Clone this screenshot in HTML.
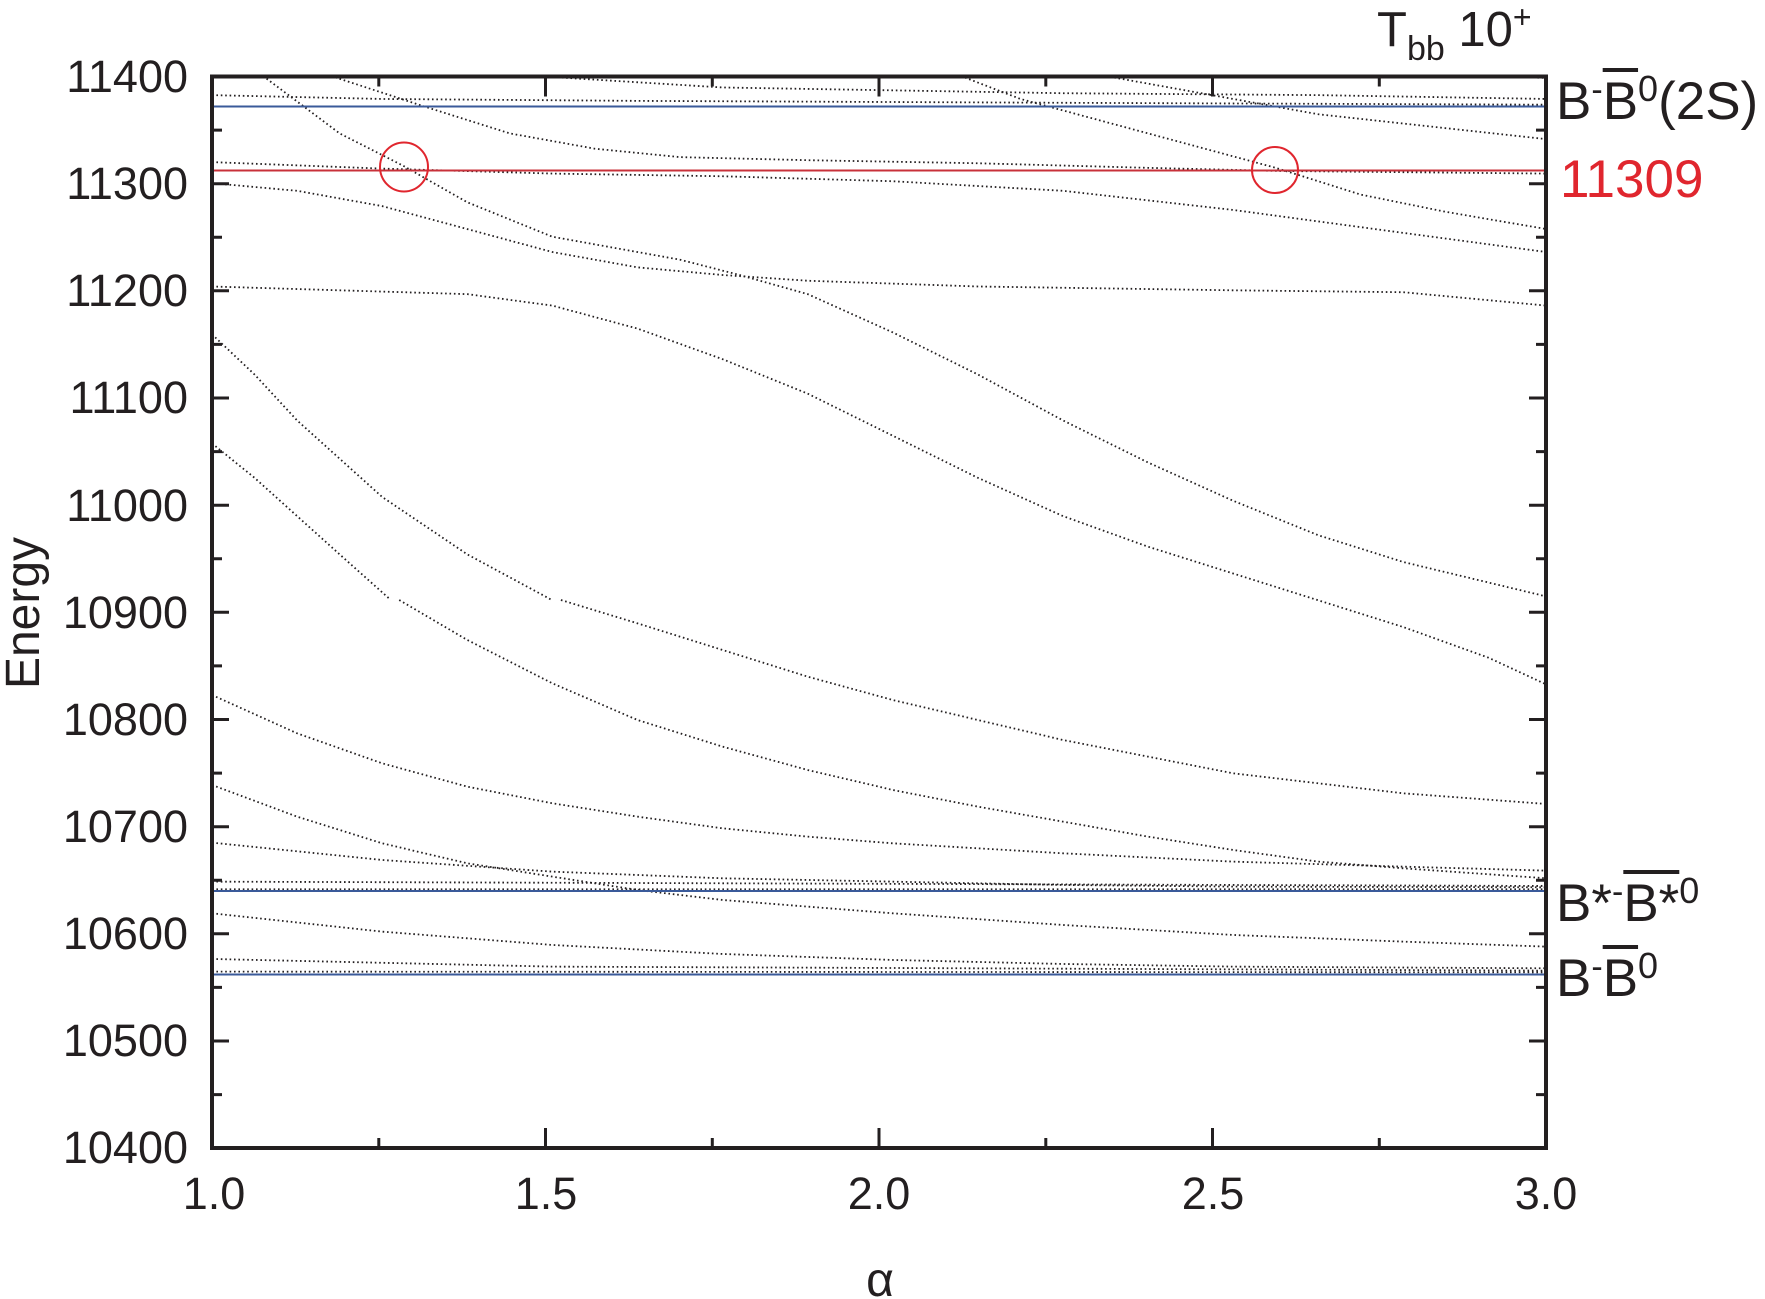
<!DOCTYPE html>
<html><head><meta charset="utf-8"><style>
body{margin:0;background:#fff;}
#c{position:relative;width:1765px;height:1299px;overflow:hidden;font-family:"Liberation Sans",sans-serif;color:#231f20;}
.t{position:absolute;white-space:nowrap;line-height:1;}
.ov{text-decoration:overline;text-decoration-thickness:4px;}
</style></head><body><div id="c">
<svg width="1765" height="1299" style="position:absolute;left:0;top:0">
<g fill="none" stroke="#231f20" stroke-width="1.8" stroke-dasharray="1.6 2.8">
<g transform="translate(212,76) scale(0.851,0.3827)">
<polyline vector-effect="non-scaling-stroke" points="0,50 200,60 500,65 1000,70 1568,75"/>
<polyline vector-effect="non-scaling-stroke" points="380,0 600,30 1000,45 1300,50 1568,60"/>
<polyline vector-effect="non-scaling-stroke" points="1480,0 1568,5"/>
<polyline vector-effect="non-scaling-stroke" points="60,0 150,150 225,235 300,330 400,420 550,480 620,520 700,570 800,670 900,780 1000,900 1100,1010 1200,1110 1300,1200 1400,1270 1568,1360"/>
<polyline vector-effect="non-scaling-stroke" points="140,0 250,80 350,150 450,190 550,212 700,220 900,228 1100,240 1250,248 1568,255"/>
<polyline vector-effect="non-scaling-stroke" points="0,225 200,242 400,255 600,262 800,275 1000,300 1200,350 1400,410 1568,460"/>
<polyline vector-effect="non-scaling-stroke" points="880,0 950,60 1050,120 1150,180 1250,240 1350,310 1450,355 1568,400"/>
<polyline vector-effect="non-scaling-stroke" points="1050,0 1150,40 1300,100 1568,165"/>
<polyline vector-effect="non-scaling-stroke" points="0,280 100,300 200,340 300,400 400,460 500,500 600,520 700,535 900,550 1200,560 1400,565 1568,600"/>
<polyline vector-effect="non-scaling-stroke" points="0,550 300,570 400,600 500,660 600,740 700,830 800,940 900,1050 1000,1150 1100,1230 1200,1300 1300,1370 1400,1440 1500,1520 1568,1590"/>
<polyline vector-effect="non-scaling-stroke" points="0,675 50,780 100,900 150,1000 200,1100 300,1250 400,1370"/>
<polyline vector-effect="non-scaling-stroke" points="0,960 50,1050 100,1150 150,1250 210,1369"/>
</g>
<g transform="translate(212,600) scale(0.851,0.3333)">
<polyline vector-effect="non-scaling-stroke" points="220,0 300,120 400,250 500,360 600,440 700,510 800,570 900,620 1000,665 1100,710 1200,750 1300,785 1400,805 1568,835"/>
<polyline vector-effect="non-scaling-stroke" points="410,0 500,70 600,150 700,230 800,300 900,360 1000,420 1100,470 1200,520 1300,550 1400,580 1568,612"/>
<polyline vector-effect="non-scaling-stroke" points="0,285 100,400 200,490 300,560 400,610 500,650 600,685 700,710 800,730 1000,760 1200,785 1400,800 1568,812"/>
<polyline vector-effect="non-scaling-stroke" points="0,555 100,650 200,730 300,790 400,830 500,870 600,900 800,940 1000,975 1200,1005 1400,1025 1568,1040"/>
<polyline vector-effect="non-scaling-stroke" points="0,728 200,780 400,815 600,835 800,845 1000,855 1200,860 1568,862"/>
<polyline vector-effect="non-scaling-stroke" points="0,845 1568,858"/>
<polyline vector-effect="non-scaling-stroke" points="0,868 1568,868"/>
<polyline vector-effect="non-scaling-stroke" points="0,940 200,995 400,1035 600,1062 800,1080 1000,1092 1200,1100 1568,1105"/>
<polyline vector-effect="non-scaling-stroke" points="0,1077 400,1100 1568,1112"/>
<polyline vector-effect="non-scaling-stroke" points="0,1115 1568,1117"/>
</g>
</g>
<g stroke="#3a5a9a" stroke-width="2">
<line x1="212" y1="106.5" x2="1546" y2="106.5"/>
<line x1="212" y1="891" x2="1546" y2="891"/>
<line x1="212" y1="974.5" x2="1546" y2="974.5"/>
</g>
<line x1="212" y1="170.5" x2="1546" y2="170.5" stroke="#c8313a" stroke-width="2"/>
<g fill="none" stroke="#e0262e" stroke-width="2">
<ellipse cx="404" cy="167" rx="24" ry="24.5"/>
<ellipse cx="1275" cy="170" rx="23" ry="23"/>
</g>
<g stroke="#231f20" stroke-width="3">
<path d="M212 76.5h17M212 130.1h10M212 183.7h17M212 237.2h10M212 290.8h17M212 344.4h10M212 398h17M212 451.6h10M212 505.2h17M212 558.7h10M212 612.3h17M212 665.9h10M212 719.5h17M212 773.1h10M212 826.7h17M212 880.2h10M212 933.8h17M212 987.4h10M212 1041h17M212 1094.6h10"/>
<path d="M1546 130.1h-10M1546 183.7h-17M1546 237.2h-10M1546 290.8h-17M1546 344.4h-10M1546 398h-17M1546 451.6h-10M1546 505.2h-17M1546 558.7h-10M1546 612.3h-17M1546 665.9h-10M1546 719.5h-17M1546 773.1h-10M1546 826.7h-17M1546 880.2h-10M1546 933.8h-17M1546 987.4h-10M1546 1041h-17M1546 1094.6h-10"/>
<path d="M378.8 1148v-10M545.5 1148v-20M712.3 1148v-10M879 1148v-20M1045.8 1148v-10M1212.5 1148v-20M1379.3 1148v-10"/>
<path d="M378.8 76.5v10M545.5 76.5v20M712.3 76.5v10M879 76.5v20M1045.8 76.5v10M1212.5 76.5v20M1379.3 76.5v10"/>
</g>
<rect x="212" y="76.5" width="1334" height="1071.5" fill="none" stroke="#231f20" stroke-width="4"/>
<g font-family="Liberation Sans, sans-serif" font-size="45" fill="#231f20" text-anchor="end">
<text x="188" y="92">11400</text><text x="188" y="199">11300</text><text x="188" y="306">11200</text><text x="188" y="413">11100</text><text x="188" y="521">11000</text><text x="188" y="628">10900</text><text x="188" y="735">10800</text><text x="188" y="842">10700</text><text x="188" y="949">10600</text><text x="188" y="1056">10500</text><text x="188" y="1163">10400</text>
</g>
<g font-family="Liberation Sans, sans-serif" font-size="45" fill="#231f20" text-anchor="middle">
<text x="214" y="1209">1.0</text><text x="546" y="1209">1.5</text><text x="879" y="1209">2.0</text><text x="1213" y="1209">2.5</text><text x="1546" y="1209">3.0</text>
<text x="880" y="1296" font-size="48">α</text>
<text transform="translate(39,613) rotate(-90)" font-size="48">Energy</text>
</g>
</svg>
<div class="t" style="left:1377px;top:6px;font-size:49px;">T<span style="font-size:34px;position:relative;top:14px;">bb</span> 10<span style="font-size:32px;position:relative;top:-18px;">+</span></div>
<div class="t" style="left:1556px;top:75px;font-size:53px;">B<span style="font-size:34px;position:relative;top:-18px;">-</span><span class="ov">B</span><span style="font-size:36px;position:relative;top:-18px;">0</span>(2S)</div>
<div class="t" style="left:1560px;top:153px;font-size:53px;color:#e0262e;">11309</div>
<div class="t" style="left:1556px;top:877px;font-size:53px;">B*<span style="font-size:34px;position:relative;top:-18px;">-</span><span class="ov">B*</span><span style="font-size:36px;position:relative;top:-18px;">0</span></div>
<div class="t" style="left:1556px;top:952px;font-size:53px;">B<span style="font-size:34px;position:relative;top:-18px;">-</span><span class="ov">B</span><span style="font-size:36px;position:relative;top:-18px;">0</span></div>
</div></body></html>
